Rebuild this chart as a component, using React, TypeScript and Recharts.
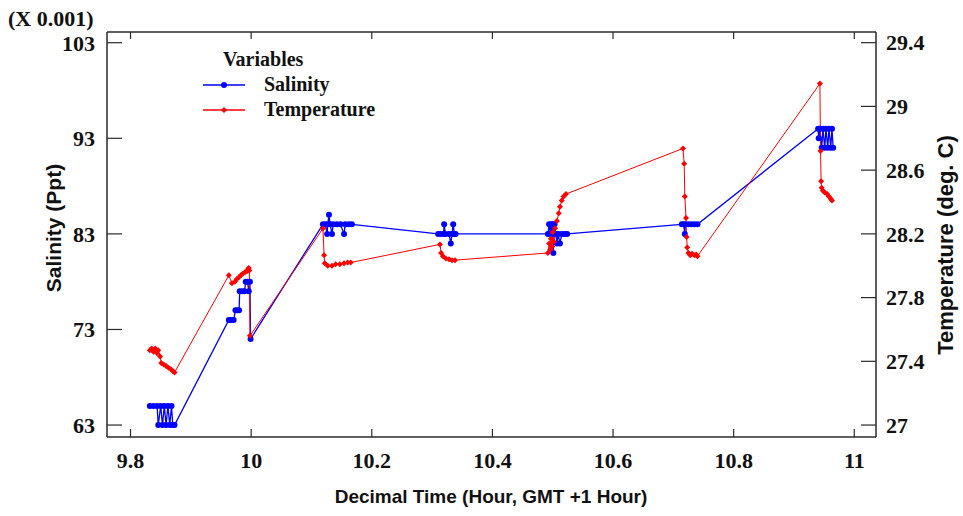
import { ComposedChart, Line, XAxis, YAxis } from "recharts";

const TIME_TICKS = [9.8, 10, 10.2, 10.4, 10.6, 10.8, 11];
const SALINITY_TICKS = [63, 73, 83, 93, 103];
const TEMP_TICKS = [27, 27.4, 27.8, 28.2, 28.6, 29, 29.4];

// salinity (x 0.001 ppt) vs decimal hour
const salinityTime = [
  9.832, 9.838, 9.844, 9.846, 9.85, 9.853, 9.856, 9.859, 9.862, 9.865, 9.868, 9.87, 9.873,
  9.963, 9.967, 9.971, 9.974, 9.977, 9.98, 9.981, 9.985, 9.989, 9.991, 9.994, 9.996, 9.998, 9.999,
  10.119, 10.123, 10.126, 10.127, 10.129, 10.131, 10.134, 10.136, 10.142, 10.148, 10.154, 10.156, 10.162, 10.167,
  10.31, 10.314, 10.319, 10.32, 10.322, 10.328, 10.331, 10.333, 10.335, 10.337, 10.339,
  10.492, 10.494, 10.496, 10.497, 10.499, 10.5, 10.501, 10.502, 10.503, 10.505, 10.507, 10.509, 10.512, 10.515, 10.52, 10.524,
  10.714, 10.717, 10.719, 10.72, 10.725, 10.73, 10.735, 10.74,
  10.94, 10.941, 10.943, 10.946, 10.948, 10.951, 10.953, 10.956, 10.958, 10.961, 10.963, 10.965,
];
const salinityValue = [
  65, 65, 65, 63, 65, 63, 65, 63, 65, 63, 65, 63, 63,
  74, 74, 74, 75, 75, 75, 77, 77, 77, 78, 78, 77, 78, 72,
  84, 84, 83, 84, 85, 84, 83, 84, 84, 84, 83, 84, 84, 84,
  83, 83, 83, 84, 83, 83, 82, 83, 84, 83, 83,
  83, 84, 83, 84, 83, 84, 81, 83, 84, 83, 82, 83, 82, 83, 83, 83,
  84, 84, 83, 84, 84, 84, 84, 84,
  94, 93, 94, 92, 94, 92, 94, 92, 94, 92, 94, 92,
];

// temperature (deg C) vs decimal hour
const tempTime = [
  9.832, 9.835, 9.838, 9.841, 9.844, 9.846, 9.849, 9.851, 9.855, 9.859, 9.863, 9.867, 9.87, 9.873,
  9.963, 9.968, 9.973, 9.976, 9.98, 9.983, 9.986, 9.99, 9.993, 9.995, 9.996, 9.997, 9.998,
  10.119, 10.121, 10.122, 10.127, 10.134, 10.14, 10.147, 10.154, 10.16, 10.165,
  10.313, 10.315, 10.318, 10.323, 10.328, 10.333, 10.338,
  10.492, 10.494, 10.496, 10.497, 10.499, 10.5, 10.502, 10.504, 10.507, 10.51, 10.512, 10.515, 10.518, 10.522,
  10.716, 10.718, 10.719, 10.721, 10.722, 10.723, 10.725, 10.728, 10.731, 10.735, 10.738, 10.74,
  10.943, 10.944, 10.945, 10.946, 10.948, 10.951, 10.955, 10.958, 10.961, 10.963,
];
const tempValue = [
  27.47, 27.48, 27.46, 27.48, 27.45, 27.47, 27.43, 27.39, 27.38, 27.37, 27.36, 27.35, 27.34, 27.33,
  27.94, 27.89, 27.9, 27.915, 27.93, 27.94, 27.95, 27.96, 27.965, 27.98, 27.985, 27.97, 27.56,
  28.234, 28.065, 28.015, 28.0, 28.0, 28.01, 28.01, 28.015, 28.02, 28.02,
  28.134, 28.08, 28.06, 28.046, 28.04, 28.035, 28.035,
  28.08, 28.14, 28.1, 28.17, 28.12, 28.21, 28.15, 28.235, 28.28, 28.33, 28.37, 28.41, 28.435, 28.45,
  28.736, 28.64, 28.435, 28.3, 28.18, 28.115, 28.08, 28.065, 28.075, 28.065, 28.07, 28.06,
  29.143, 28.72, 28.53, 28.49, 28.47, 28.46, 28.45, 28.435, 28.42, 28.41,
];

const salinityData = salinityTime.map((time, i) => ({ time, value: salinityValue[i] }));
const tempData = tempTime.map((time, i) => ({ time, value: tempValue[i] }));

const BLUE = "#0000ff";
const RED = "#ff0000";
const FRAME = "#2a2a2a";
const tickFont = { fontFamily: "Liberation Serif", fontWeight: 700, fontSize: 22, fill: "#111" };
const titleFont = { fontFamily: "Liberation Sans", fontWeight: 700, color: "#111" };

const BlueDot = (p: any) => <circle key={`s${p.index}`} cx={p.cx} cy={p.cy} r={3} fill={BLUE} />;
const RedDot = (p: any) => (
  <path
    key={`t${p.index}`}
    d={`M${p.cx - 3},${p.cy} L${p.cx},${p.cy - 3} L${p.cx + 3},${p.cy} L${p.cx},${p.cy + 3} Z`}
    fill={RED}
  />
);

export default function App() {
  return (
    <div style={{ position: "absolute", left: 0, top: 0, width: 963, height: 516, background: "#fff" }}>
      <ComposedChart width={963} height={516} margin={{ top: 30, right: 0, bottom: 0, left: 0 }}>
        <XAxis xAxisId="bottom" dataKey="time" type="number" domain={[9.761, 11.036]} ticks={TIME_TICKS}
          allowDataOverflow height={79} tickSize={-8} tickMargin={23} interval={0}
          axisLine={{ stroke: FRAME, strokeWidth: 1.5 }} tickLine={{ stroke: FRAME, strokeWidth: 1.2 }}
          tick={tickFont} />
        <XAxis xAxisId="top" orientation="top" dataKey="time" type="number" domain={[9.761, 11.036]}
          ticks={TIME_TICKS} allowDataOverflow height={2} tickSize={-7} tickMargin={0} interval={0}
          tick={{ fill: "transparent", fontSize: 1 }}
          axisLine={{ stroke: FRAME, strokeWidth: 1.5 }} tickLine={{ stroke: FRAME, strokeWidth: 1.2 }} />
        <YAxis yAxisId="sal" orientation="left" type="number" domain={[61.75, 104.12]} ticks={SALINITY_TICKS}
          allowDataOverflow width={107} tickSize={-15} tickMargin={27} interval={0}
          axisLine={{ stroke: FRAME, strokeWidth: 1.5 }} tickLine={{ stroke: FRAME, strokeWidth: 1.2 }}
          tick={tickFont} />
        <YAxis yAxisId="temp" orientation="right" type="number" domain={[26.925, 29.467]} ticks={TEMP_TICKS}
          allowDataOverflow width={87} tickSize={-15} tickMargin={25} interval={0}
          axisLine={{ stroke: FRAME, strokeWidth: 1.5 }} tickLine={{ stroke: FRAME, strokeWidth: 1.2 }}
          tick={tickFont} />
        <Line xAxisId="bottom" yAxisId="sal" data={salinityData} dataKey="value" type="linear"
          stroke={BLUE} strokeWidth={1.3} dot={BlueDot} activeDot={false} isAnimationActive={false} />
        <Line xAxisId="bottom" yAxisId="temp" data={tempData} dataKey="value" type="linear"
          stroke={RED} strokeWidth={1} dot={RedDot} activeDot={false} isAnimationActive={false} />
      </ComposedChart>

      <div style={{ position: "absolute", left: 8, top: 6, fontFamily: "Liberation Serif", fontWeight: 700, fontSize: 22, color: "#111" }}>
        (X 0.001)
      </div>
      <div style={{ ...titleFont, position: "absolute", left: 54, top: 228, fontSize: 21, whiteSpace: "nowrap",
        transform: "translate(-50%, -50%) rotate(-90deg)" }}>
        Salinity (Ppt)
      </div>
      <div style={{ ...titleFont, position: "absolute", left: 946, top: 245, fontSize: 22, whiteSpace: "nowrap",
        transform: "translate(-50%, -50%) rotate(-90deg)" }}>
        Temperature (deg. C)
      </div>
      <div style={{ ...titleFont, position: "absolute", left: 491, top: 497, fontSize: 19, whiteSpace: "nowrap",
        transform: "translate(-50%, -50%)" }}>
        Decimal Time (Hour, GMT +1 Hour)
      </div>

      <div style={{ position: "absolute", left: 200, top: 46, fontFamily: "Liberation Serif", fontWeight: 700, fontSize: 20, color: "#111" }}>
        <div style={{ marginLeft: 23, height: 26, lineHeight: "26px" }}>Variables</div>
        {[{ name: "Salinity", color: BLUE, round: true }, { name: "Temperature", color: RED, round: false }].map((s) => (
          <div key={s.name} style={{ display: "flex", alignItems: "center", height: 25 }}>
            <svg width={61} height={10} style={{ marginLeft: 3 }}>
              <line x1={0} y1={5} x2={42} y2={5} stroke={s.color} strokeWidth={1.3} />
              {s.round
                ? <circle cx={21} cy={5} r={3} fill={s.color} />
                : <path d="M18,5 L21,2 L24,5 L21,8 Z" fill={s.color} />}
            </svg>
            <span>{s.name}</span>
          </div>
        ))}
      </div>
    </div>
  );
}
